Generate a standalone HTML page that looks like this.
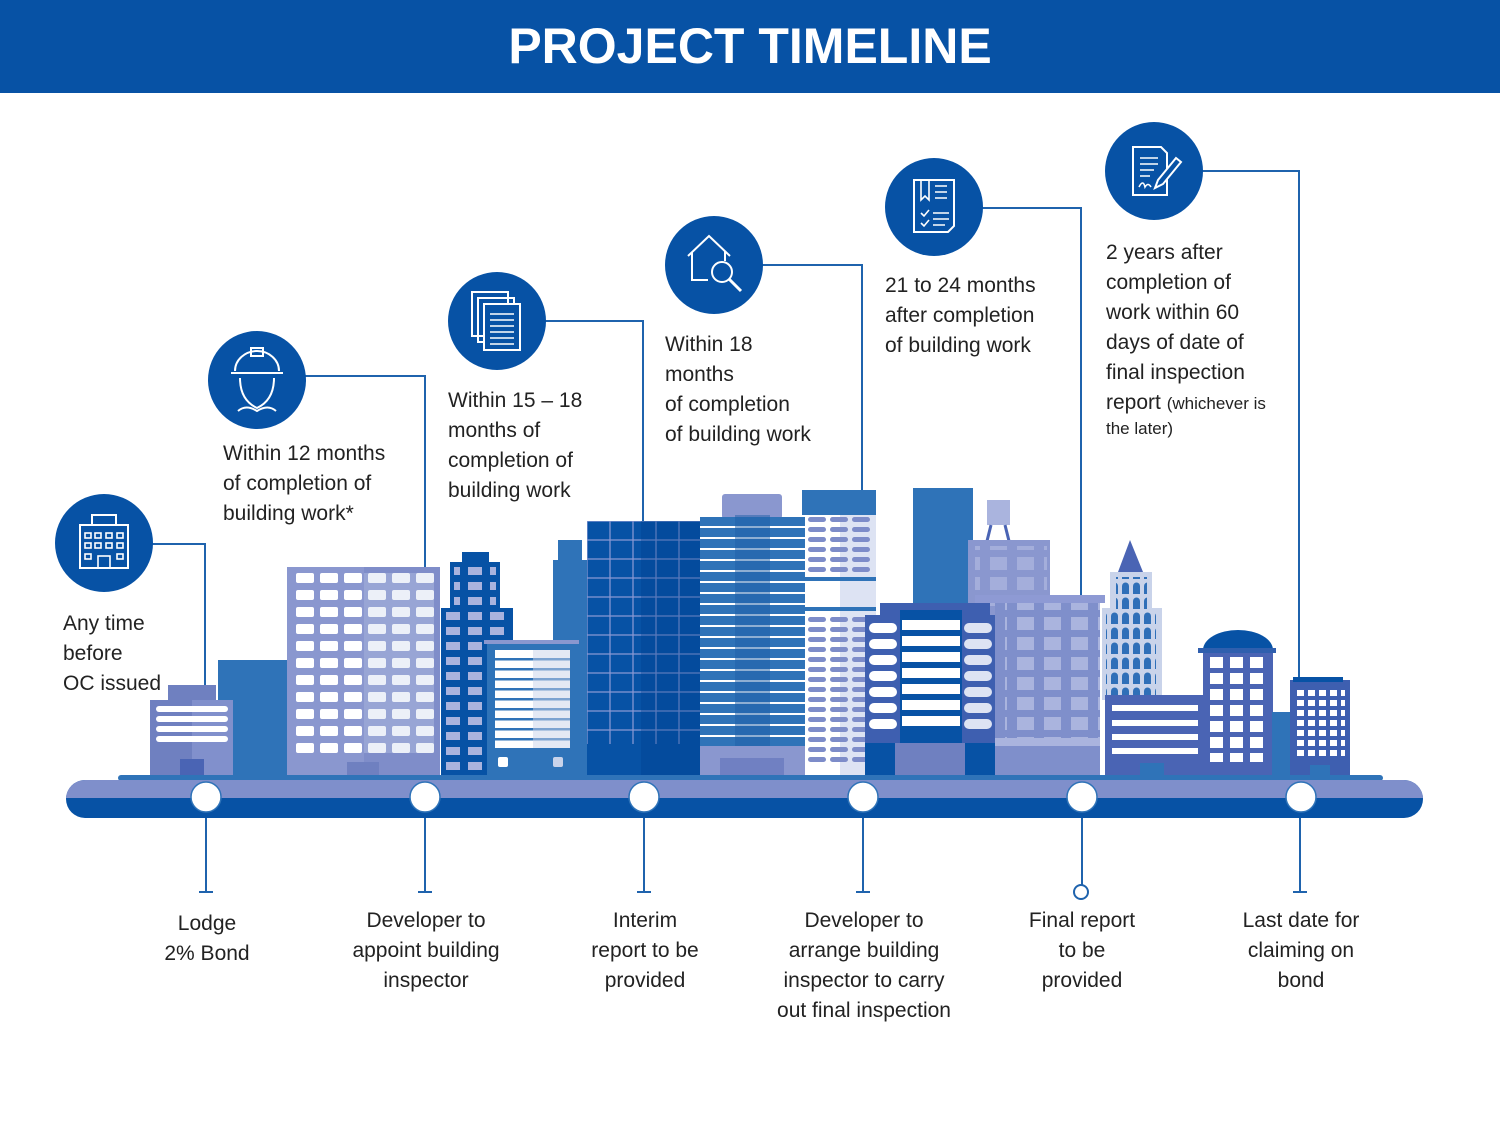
<!DOCTYPE html>
<html><head><meta charset="utf-8"><style>
html,body{margin:0;padding:0;background:#fff;}
svg{display:block;}
text{font-family:"Liberation Sans",sans-serif;fill:#222;font-size:21px;}
</style></head><body>
<svg width="1500" height="1125" viewBox="0 0 1500 1125" xmlns="http://www.w3.org/2000/svg">
<defs>
<pattern id="w3" x="296" y="573" width="24" height="17" patternUnits="userSpaceOnUse"><rect width="18" height="10" rx="2" fill="#fff"/></pattern>
<pattern id="wd" x="446" y="612" width="22" height="15" patternUnits="userSpaceOnUse"><rect width="14" height="8" fill="#a9b3de"/></pattern>
<pattern id="grid" x="587" y="521" width="23" height="19" patternUnits="userSpaceOnUse"><rect width="23" height="19" fill="none" stroke="#8e9ad4" stroke-width="1.2"/></pattern>
<pattern id="stripe" x="700" y="515" width="20" height="11" patternUnits="userSpaceOnUse"><rect width="20" height="2" fill="#fff"/></pattern>
<pattern id="dash" x="808" y="517" width="22" height="10" patternUnits="userSpaceOnUse"><rect width="18" height="5" rx="2.5" fill="#7d8cc9"/></pattern>
<pattern id="w12" x="1017" y="617" width="27" height="20" patternUnits="userSpaceOnUse"><rect width="17" height="13" fill="#aab4de"/></pattern>
<pattern id="arch" x="1110" y="612" width="11" height="15" patternUnits="userSpaceOnUse"><path d="M1 12V4a3.5 3.5 0 0 1 7 0v8z" fill="#2f6fb8"/></pattern>
<pattern id="w16" x="1210" y="657" width="20" height="16" patternUnits="userSpaceOnUse"><rect width="13" height="11" fill="#fff"/></pattern>
<pattern id="w18" x="1297" y="690" width="11" height="10" patternUnits="userSpaceOnUse"><rect width="7" height="6" fill="#fff"/></pattern>
</defs>

<rect x="0" y="0" width="1500" height="93" fill="#0752a5"/>
<text x="750" y="63" text-anchor="middle" style="font-size:50px;font-weight:bold;fill:#fff">PROJECT TIMELINE</text>

<g stroke="#1f63ad" stroke-width="2" fill="none">
<polyline points="150,544 205,544 205,690"/>
<polyline points="300,376 425,376 425,570"/>
<polyline points="543,321 643,321 643,522"/>
<polyline points="760,265 862,265 862,492"/>
<polyline points="980,208 1081,208 1081,600"/>
<polyline points="1200,171 1299,171 1299,682"/>
</g>

<g fill="#0752a5">
<circle cx="104" cy="543" r="49"/>
<circle cx="257" cy="380" r="49"/>
<circle cx="497" cy="321" r="49"/>
<circle cx="714" cy="265" r="49"/>
<circle cx="934" cy="207" r="49"/>
<circle cx="1154" cy="171" r="49"/>
</g>
<g stroke="#fff" stroke-width="2" fill="none">
<rect x="80" y="525" width="48" height="43"/><rect x="92" y="515" width="24" height="10"/>
<g stroke-width="1.6"><rect x="85" y="533" width="6" height="5"/><rect x="95" y="533" width="6" height="5"/><rect x="106" y="533" width="6" height="5"/><rect x="117" y="533" width="6" height="5"/>
<rect x="85" y="543" width="6" height="5"/><rect x="95" y="543" width="6" height="5"/><rect x="106" y="543" width="6" height="5"/><rect x="117" y="543" width="6" height="5"/>
<rect x="85" y="554" width="6" height="5"/><rect x="117" y="554" width="6" height="5"/><rect x="98" y="556" width="12" height="12"/></g>
<path d="M235 371a22 20 0 0 1 44 0M231 373h52M240 378q0 22 17 30q17-8 17-30M238 411q8-7 19 0q11-7 19 0" />
<rect x="251" y="348" width="12" height="8"/>
<rect x="472" y="292" width="36" height="44"/><rect x="478" y="298" width="36" height="44"/><rect x="484" y="304" width="36" height="46" fill="#0752a5"/>
<path d="M490 314h24M490 320h24M490 326h24M490 332h24M490 338h24M490 344h24" stroke-width="1.6"/>
<path d="M688 256l21-20 21 20M692 252v28h16M725 251v10"/><circle cx="722" cy="272" r="10"/><path d="M729 279l12 12" stroke-width="3"/>
<path d="M914 180h40v46l-6 6h-34z"/><path d="M921 180v20l4-4 4 4v-20M935 186h12M935 192h12M935 198h12M921 213l3 3 5-6M921 223l3 3 5-6M933 213h16M933 219h16M933 225h12" stroke-width="1.6"/>
<path d="M1133 147h28l6 6v42h-34z"/><path d="M1140 158h18M1140 164h18M1140 170h14M1140 176h10M1139 187q4-8 6 0q3-5 6 0" stroke-width="1.6"/><path d="M1176 158l-18 22-3 8 8-4 18-22z" fill="#0752a5"/>
</g>

<rect x="218" y="660" width="72" height="115" fill="#2f73b8"/>
<rect x="168" y="685" width="48" height="20" fill="#6f80c0"/>
<rect x="150" y="700" width="83" height="75" fill="#6f80c0"/>
<rect x="192" y="700" width="41" height="75" fill="#8190cc"/>
<g fill="#fff"><rect x="156" y="706" width="72" height="6" rx="3"/><rect x="156" y="716" width="72" height="6" rx="3"/><rect x="156" y="726" width="72" height="6" rx="3"/><rect x="156" y="736" width="72" height="6" rx="3"/></g>
<rect x="180" y="759" width="24" height="16" fill="#4a64b4"/>

<rect x="287" y="567" width="153" height="208" fill="#8a97cf"/>
<rect x="364" y="567" width="76" height="208" fill="#7f8dc9"/>
<rect x="296" y="573" width="138" height="180" fill="url(#w3)"/>
<rect x="364" y="573" width="70" height="180" fill="#c9d3ea" opacity="0.35"/>
<rect x="347" y="762" width="32" height="13" fill="#6f80c0"/>

<rect x="558" y="540" width="24" height="30" fill="#2f73b8"/>
<rect x="553" y="560" width="34" height="215" fill="#2f73b8"/>

<rect x="462" y="552" width="27" height="15" fill="#0752a5"/>
<rect x="450" y="562" width="50" height="48" fill="#0752a5"/>
<rect x="441" y="608" width="72" height="167" fill="#0752a5"/>
<rect x="454" y="565" width="42" height="40" fill="url(#wd)"/>
<rect x="446" y="612" width="62" height="158" fill="url(#wd)"/>
<rect x="487" y="642" width="92" height="133" fill="#2f73b8"/>
<rect x="484" y="640" width="95" height="4" fill="#8a97cf"/>
<rect x="495" y="650" width="75" height="98" fill="#fff"/>
<g fill="#2f73b8"><rect x="495" y="658" width="75" height="2.5"/><rect x="495" y="668" width="75" height="2.5"/><rect x="495" y="678" width="75" height="2.5"/><rect x="495" y="688" width="75" height="2.5"/><rect x="495" y="698" width="75" height="2.5"/><rect x="495" y="708" width="75" height="2.5"/><rect x="495" y="718" width="75" height="2.5"/><rect x="495" y="728" width="75" height="2.5"/><rect x="495" y="738" width="75" height="2.5"/></g>
<rect x="533" y="650" width="37" height="98" fill="#c9d3ea" opacity="0.5"/>
<rect x="498" y="757" width="10" height="10" rx="2" fill="#fff"/><rect x="553" y="757" width="10" height="10" rx="2" fill="#c9d3ea"/>

<rect x="587" y="521" width="113" height="254" fill="#0752a5"/>
<rect x="587" y="521" width="113" height="223" fill="url(#grid)"/>
<rect x="641" y="521" width="59" height="254" fill="#003f8f" opacity="0.35"/>

<rect x="722" y="494" width="60" height="25" rx="3" fill="#8a97cf"/>
<rect x="700" y="517" width="105" height="258" fill="#2f73b8"/>
<rect x="700" y="517" width="105" height="230" fill="url(#stripe)"/>
<rect x="735" y="515" width="35" height="232" fill="#1f5fa8" opacity="0.5"/>
<rect x="700" y="746" width="105" height="29" fill="#8a97cf"/>
<rect x="720" y="758" width="64" height="17" fill="#7080c2"/>

<rect x="802" y="490" width="74" height="25" fill="#2f73b8"/>
<rect x="805" y="515" width="71" height="260" fill="#fff"/>
<rect x="840" y="515" width="36" height="260" fill="#dde3f3"/>
<rect x="808" y="517" width="66" height="60" fill="url(#dash)"/>
<rect x="805" y="577" width="71" height="4" fill="#2f73b8"/><rect x="805" y="607" width="71" height="4" fill="#2f73b8"/>
<rect x="808" y="614" width="66" height="148" fill="url(#dash)"/>

<rect x="913" y="488" width="60" height="125" fill="#2f73b8"/>
<rect x="987" y="500" width="23" height="25" fill="#aab4de"/>
<path d="M991 525l-4 16M1005 525l4 16" stroke="#4a64b4" stroke-width="3"/>
<rect x="968" y="540" width="82" height="235" fill="#8a97cf"/>
<rect x="975" y="546" width="72" height="60" fill="url(#w12)" opacity="0.8"/>
<rect x="995" y="595" width="105" height="180" fill="#7f8fcb"/>
<rect x="975" y="595" width="130" height="8" fill="#8e9ad4"/>
<rect x="1005" y="603" width="95" height="135" fill="url(#w12)"/>
<rect x="995" y="738" width="105" height="8" fill="#aab4de"/>

<rect x="880" y="603" width="110" height="15" fill="#3e5fb0"/>
<rect x="865" y="615" width="130" height="160" fill="#3e5fb0"/>
<rect x="900" y="610" width="62" height="145" fill="#0752a5"/>
<g fill="#fff"><rect x="902" y="620" width="58" height="10"/><rect x="902" y="636" width="58" height="10"/><rect x="902" y="652" width="58" height="10"/><rect x="902" y="668" width="58" height="10"/><rect x="902" y="684" width="58" height="10"/><rect x="902" y="700" width="58" height="10"/><rect x="902" y="716" width="58" height="10"/>
<rect x="869" y="623" width="28" height="10" rx="5"/><rect x="869" y="639" width="28" height="10" rx="5"/><rect x="869" y="655" width="28" height="10" rx="5"/><rect x="869" y="671" width="28" height="10" rx="5"/><rect x="869" y="687" width="28" height="10" rx="5"/><rect x="869" y="703" width="28" height="10" rx="5"/><rect x="869" y="719" width="28" height="10" rx="5"/></g>
<g fill="#dde3f3"><rect x="964" y="623" width="28" height="10" rx="5"/><rect x="964" y="639" width="28" height="10" rx="5"/><rect x="964" y="655" width="28" height="10" rx="5"/><rect x="964" y="671" width="28" height="10" rx="5"/><rect x="964" y="687" width="28" height="10" rx="5"/><rect x="964" y="703" width="28" height="10" rx="5"/><rect x="964" y="719" width="28" height="10" rx="5"/></g>
<rect x="865" y="743" width="30" height="32" fill="#0752a5"/><rect x="965" y="743" width="30" height="32" fill="#0752a5"/>
<rect x="895" y="743" width="70" height="32" fill="#6f80c0"/>

<polygon points="1130,540 1118,572 1143,572" fill="#4a64b4"/>
<rect x="1110" y="572" width="42" height="45" fill="#c9d3ea"/>
<rect x="1102" y="608" width="60" height="92" fill="#c9d3ea"/>
<rect x="1116" y="577" width="31" height="33" fill="url(#arch)"/>
<rect x="1106" y="612" width="50" height="85" fill="url(#arch)"/>
<rect x="1105" y="695" width="100" height="80" fill="#4a64b4"/>
<g fill="#fff"><rect x="1112" y="705" width="86" height="6"/><rect x="1112" y="720" width="86" height="6"/><rect x="1112" y="734" width="86" height="6"/><rect x="1112" y="748" width="86" height="6"/></g>
<rect x="1140" y="763" width="24" height="12" fill="#2f73b8"/>
<path d="M1203 650a35 20 0 0 1 70 0z" fill="#0752a5"/>
<rect x="1198" y="648" width="78" height="5" fill="#2f5fae"/>
<rect x="1203" y="653" width="70" height="122" fill="#4a64b4"/>
<rect x="1210" y="657" width="58" height="105" fill="url(#w16)"/>
<rect x="1272" y="712" width="22" height="63" fill="#2f73b8"/>
<rect x="1290" y="680" width="60" height="95" fill="#3e5fb0"/>
<rect x="1293" y="677" width="50" height="5" fill="#0752a5"/>
<rect x="1297" y="690" width="48" height="68" fill="url(#w18)"/>
<rect x="1310" y="765" width="20" height="10" fill="#2f73b8"/>

<rect x="118" y="775" width="1265" height="6" rx="3" fill="#2f73b8"/>
<rect x="66" y="780" width="1357" height="38" rx="19" fill="#0752a5"/>
<path d="M85 780H1404a19 19 0 0 1 19 18H66a19 19 0 0 1 19-18z" fill="#7f8fcb"/>
<g fill="#fff" stroke="#2f73b8" stroke-width="1.5">
<circle cx="206" cy="797" r="15"/><circle cx="425" cy="797" r="15"/><circle cx="644" cy="797" r="15"/><circle cx="863" cy="797" r="15"/><circle cx="1082" cy="797" r="15"/><circle cx="1301" cy="797" r="15"/>
</g>
<g stroke="#1f63ad" stroke-width="2" fill="none">
<path d="M206 818v74M199 892h14"/><path d="M425 818v74M418 892h14"/><path d="M644 818v74M637 892h14"/><path d="M863 818v74M856 892h14"/><path d="M1082 818v67"/><circle cx="1081" cy="892" r="7"/><path d="M1300 818v74M1293 892h14"/>
</g>

<text x="63" y="630">Any time</text><text x="63" y="660">before</text><text x="63" y="690">OC issued</text>
<text x="223" y="460">Within 12 months</text><text x="223" y="490">of completion of</text><text x="223" y="520">building work*</text>
<text x="448" y="407">Within 15 – 18</text><text x="448" y="437">months of</text><text x="448" y="467">completion of</text><text x="448" y="497">building work</text>
<text x="665" y="351">Within 18</text><text x="665" y="381">months</text><text x="665" y="411">of  completion</text><text x="665" y="441">of building work</text>
<text x="885" y="292">21 to 24 months</text><text x="885" y="322">after completion</text><text x="885" y="352">of building work</text>
<text x="1106" y="259">2 years after</text><text x="1106" y="289">completion of</text><text x="1106" y="319">work within 60</text><text x="1106" y="349">days of date of</text><text x="1106" y="379">final inspection</text><text x="1106" y="409">report <tspan style="font-size:17px">(whichever is</tspan></text><text x="1106" y="434" style="font-size:17px">the later)</text>

<g text-anchor="middle">
<text x="207" y="930">Lodge</text><text x="207" y="960">2% Bond</text>
<text x="426" y="927">Developer to</text><text x="426" y="957">appoint building</text><text x="426" y="987">inspector</text>
<text x="645" y="927">Interim</text><text x="645" y="957">report to be</text><text x="645" y="987">provided</text>
<text x="864" y="927">Developer to</text><text x="864" y="957">arrange building</text><text x="864" y="987">inspector to carry</text><text x="864" y="1017">out final inspection</text>
<text x="1082" y="927">Final report</text><text x="1082" y="957">to be</text><text x="1082" y="987">provided</text>
<text x="1301" y="927">Last date for</text><text x="1301" y="957">claiming on</text><text x="1301" y="987">bond</text>
</g>
</svg>
</body></html>
